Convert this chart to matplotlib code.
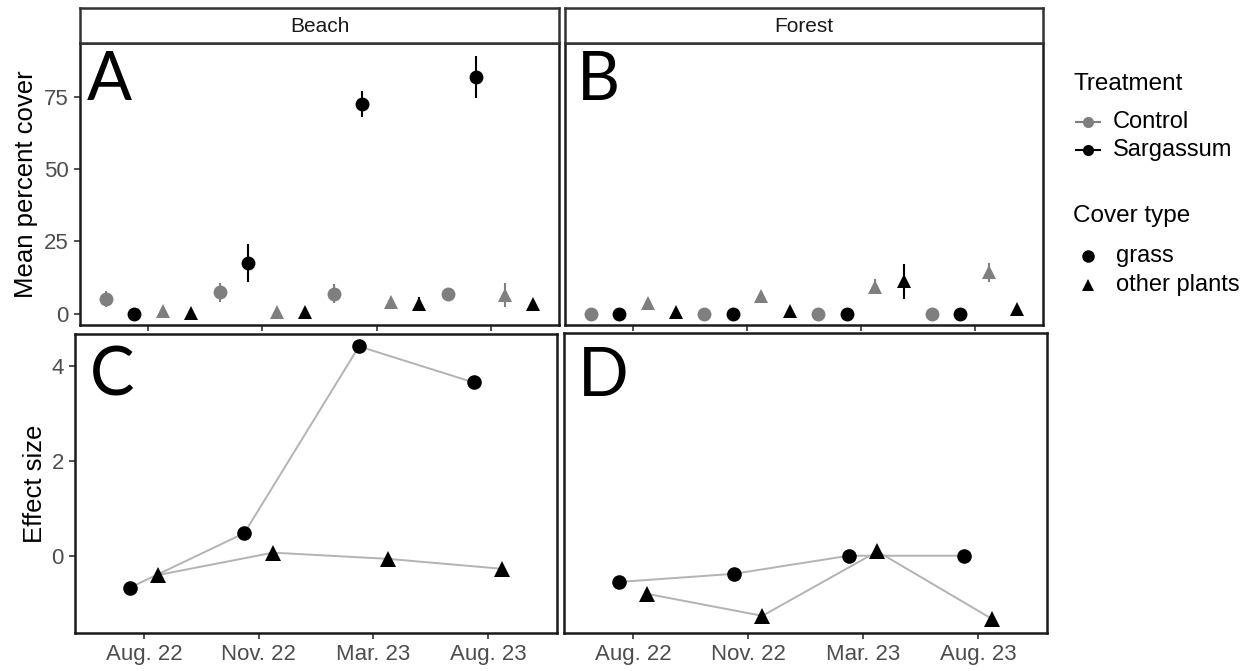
import numpy as np
import matplotlib
matplotlib.use("Agg")
import matplotlib.pyplot as plt
from matplotlib.lines import Line2D

plt.rcParams['font.family'] = ['Liberation Sans', 'DejaVu Sans']

# ---- data ----
dates = ["Aug. 22", "Nov. 22", "Mar. 23", "Aug. 23"]
sites = ["Beach", "Forest"]

# mean percent cover (and standard error) per site
beach_control_grass = [5.0, 7.5, 7.0, 6.8]
beach_control_grass_se = [2.8, 3.3, 3.3, 0.6]
beach_sarg_grass = [0.0, 17.5, 72.5, 82.0]
beach_sarg_grass_se = [0.0, 6.5, 4.5, 7.3]
beach_control_other = [1.0, 0.5, 4.2, 6.5]
beach_control_other_se = [0.4, 0.3, 0.8, 4.0]
beach_sarg_other = [0.3, 0.5, 3.5, 3.5]
beach_sarg_other_se = [0.2, 0.2, 2.3, 0.8]

forest_control_grass = [0.0, 0.0, 0.0, 0.0]
forest_control_grass_se = [0.0, 0.0, 0.0, 0.0]
forest_sarg_grass = [0.0, 0.0, 0.0, 0.0]
forest_sarg_grass_se = [0.0, 0.0, 0.0, 0.0]
forest_control_other = [3.8, 6.2, 9.4, 14.3]
forest_control_other_se = [1.7, 1.6, 2.6, 3.2]
forest_sarg_other = [0.5, 0.8, 11.2, 1.7]
forest_sarg_other_se = [0.3, 0.3, 6.0, 0.5]

# effect sizes
beach_effect_grass = [-0.67, 0.48, 4.41, 3.65]
beach_effect_other = [-0.40, 0.07, -0.06, -0.27]
forest_effect_grass = [-0.55, -0.38, 0.0, 0.0]
forest_effect_other = [-0.80, -1.26, 0.09, -1.33]

treatments = ["Control", "Sargassum"]
cover_types = ["grass", "other plants"]

# ---- styling ----
W, H = 1255, 671
CONTROL = "#7f7f7f"
SARG = "black"
TICKCOL = "#4d4d4d"

fig = plt.figure(figsize=(W / 100, H / 100), dpi=100)


def box(l, r, t, b):
    return [l / W, 1 - b / H, (r - l) / W, (b - t) / H]


def fx(px):
    return px / W


def fy(py):
    return 1 - py / H


axA = fig.add_axes(box(80, 559, 43, 325))
axB = fig.add_axes(box(565, 1043, 43, 325))
axC = fig.add_axes(box(75, 557, 334, 633))
axD = fig.add_axes(box(564, 1047, 333, 633))

x = np.arange(1, len(dates) + 1)

top_series = {
    "Beach": [
        (beach_control_grass, beach_control_grass_se, CONTROL, "o"),
        (beach_sarg_grass, beach_sarg_grass_se, SARG, "o"),
        (beach_control_other, beach_control_other_se, CONTROL, "^"),
        (beach_sarg_other, beach_sarg_other_se, SARG, "^"),
    ],
    "Forest": [
        (forest_control_grass, forest_control_grass_se, CONTROL, "o"),
        (forest_sarg_grass, forest_sarg_grass_se, SARG, "o"),
        (forest_control_other, forest_control_other_se, CONTROL, "^"),
        (forest_sarg_other, forest_sarg_other_se, SARG, "^"),
    ],
}
offsets = [-0.375, -0.125, 0.125, 0.375]

for ax, site in ((axA, "Beach"), (axB, "Forest")):
    for (vals, se, col, mk), off in zip(top_series[site], offsets):
        ax.errorbar(x + off, vals, yerr=se, fmt=mk, color=col, ecolor=col,
                    markersize=10 if mk == "o" else 9.5, elinewidth=1.5,
                    capsize=3.2, capthick=1.5, markeredgewidth=0, zorder=3)
    ax.set_ylim(-3.9, 93.7)
    ax.set_yticks([0, 25, 50, 75])

eff = {
    "Beach": (beach_effect_grass, beach_effect_other),
    "Forest": (forest_effect_grass, forest_effect_other),
}
for ax, site in ((axC, "Beach"), (axD, "Forest")):
    g, o = eff[site]
    ax.plot(x - 0.125, g, color="#b3b3b3", lw=1.4, zorder=2)
    ax.plot(x + 0.125, o, color="#b3b3b3", lw=1.4, zorder=2)
    ax.plot(x - 0.125, g, "o", color="black", markersize=10.5, markeredgewidth=0, zorder=3)
    ax.plot(x + 0.125, o, "^", color="black", markersize=11, markeredgewidth=0, zorder=3)
    ax.set_ylim(-1.62, 4.67)
    ax.set_yticks([0, 2, 4])

for ax in (axA, axB, axC, axD):
    ax.set_xlim(0.4, 4.6)
    ax.set_xticks(x)
    ax.tick_params(axis="both", length=4.5, width=1.2, color="#333333",
                   labelcolor=TICKCOL, labelsize=16, pad=3.5)
    for sp in ax.spines.values():
        sp.set_linewidth(1.8)
        sp.set_color("#1a1a1a")

for ax in (axA, axB):
    ax.set_xticklabels([])
for ax in (axB, axD):
    ax.tick_params(axis="y", left=False, labelleft=False)
for ax in (axC, axD):
    ax.set_xticklabels(dates)

axA.set_ylabel("Mean percent cover", fontsize=18.5, color="black")
axA.yaxis.set_label_coords(-0.087, 0.5)
axC.set_ylabel("Effect size", fontsize=18.5, color="black")
axC.yaxis.set_label_coords(-0.058, 0.5)

# panel letters (left edge, top edge in pixels)
letter_pos = {"A": (87, 50), "B": (577, 50), "C": (90, 346), "D": (578, 346)}
for letter, (px, py) in letter_pos.items():
    fig.text(fx(px), fy(py), letter, va="top", ha="left",
             fontsize=48, family=["Lato", "DejaVu Sans"], color="black")

# facet strips
for (l, r), site in (((80, 559), "Beach"), ((565, 1043), "Forest")):
    s = fig.add_axes(box(l, r, 8, 43))
    s.set_xticks([])
    s.set_yticks([])
    for sp in s.spines.values():
        sp.set_linewidth(1.8)
        sp.set_color("#333333")
    s.text(0.5, 0.47, site, ha="center", va="center", fontsize=15, color="#1a1a1a")

# legend: Treatment
fig.text(fx(1073), fy(84), "Treatment", fontsize=17.5, va="center", ha="left")
for name, col, py in zip(treatments, [CONTROL, SARG], [122, 150]):
    fig.add_artist(Line2D([fx(1076), fx(1100)], [fy(py), fy(py)], color=col,
                          lw=1.5, transform=fig.transFigure))
    fig.add_artist(Line2D([fx(1088)], [fy(py)], color=col, marker="o",
                          markersize=8, markeredgewidth=0, transform=fig.transFigure))
    fig.text(fx(1113), fy(py), name, fontsize=17, va="center", ha="left")

# legend: Cover type
fig.text(fx(1073), fy(216), "Cover type", fontsize=17.5, va="center", ha="left")
for name, mk, py in zip(cover_types, ["o", "^"], [256, 285]):
    fig.add_artist(Line2D([fx(1088)], [fy(py)], color="black", marker=mk,
                          markersize=9, markeredgewidth=0, transform=fig.transFigure))
    fig.text(fx(1116), fy(py), name, fontsize=17, va="center", ha="left")

fig.savefig("out.png", dpi=100, facecolor="white")
